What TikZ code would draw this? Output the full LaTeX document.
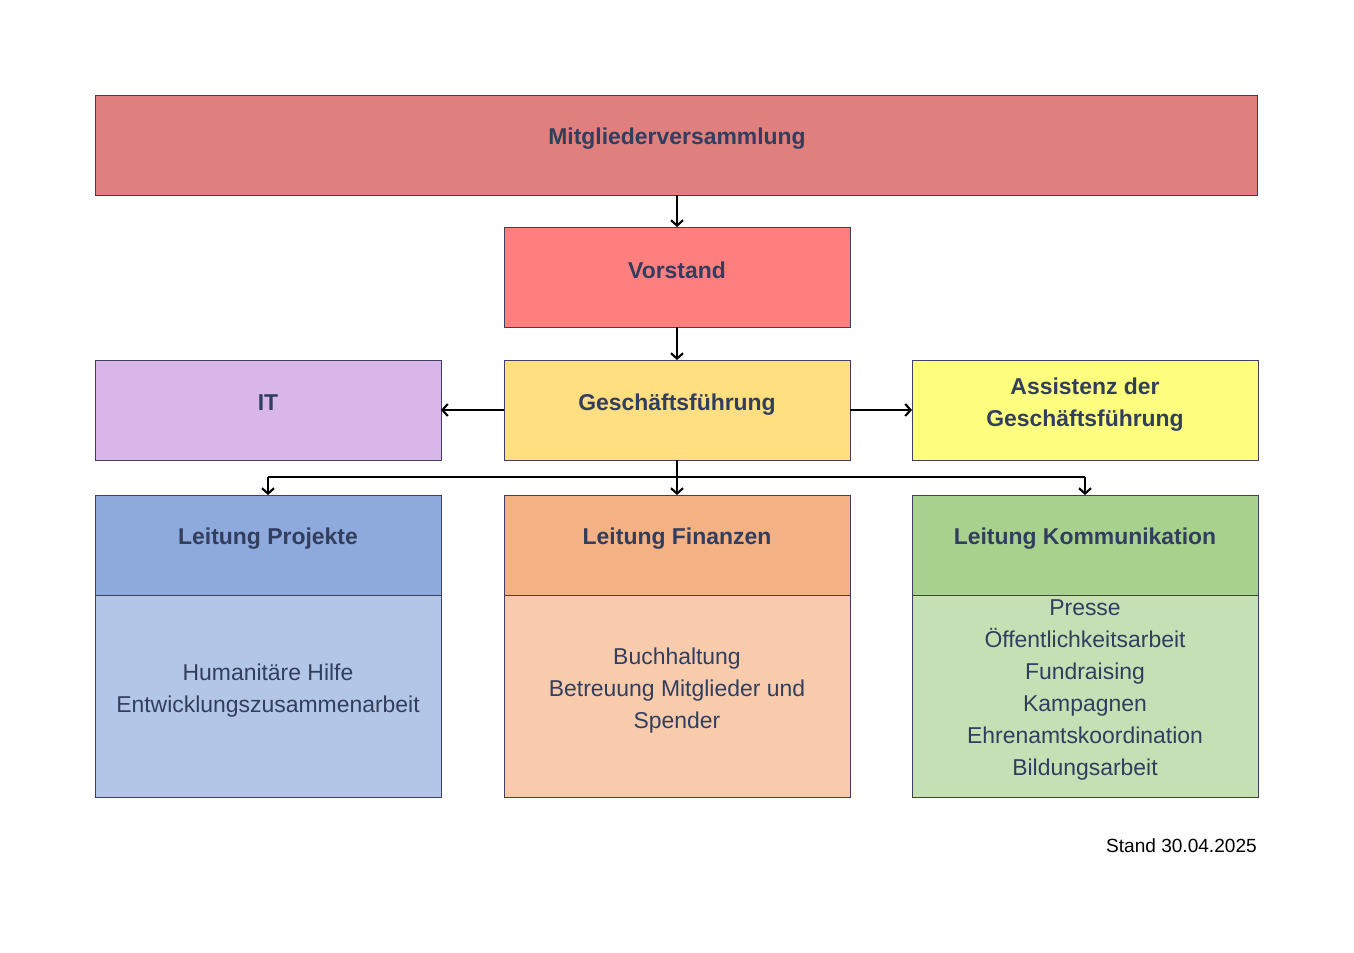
\documentclass[tikz,border=0pt]{standalone}
\usepackage{fontspec}
\setmainfont{Liberation Sans}
\usetikzlibrary{arrows.meta,calc}

\definecolor{rahmen}{HTML}{3F3F5F}
\definecolor{schrift}{HTML}{323E5E}
\definecolor{mvfarbe}{HTML}{DF7F7E}
\definecolor{vsfarbe}{HTML}{FF7F7F}
\definecolor{gffarbe}{HTML}{FFDF7F}
\definecolor{itfarbe}{HTML}{D9B6EA}
\definecolor{asfarbe}{HTML}{FFFF7F}
\definecolor{pjkopf}{HTML}{8EA9DB}
\definecolor{pjkoerper}{HTML}{B4C6E7}
\definecolor{fnkopf}{HTML}{F4B183}
\definecolor{fnkoerper}{HTML}{F8CBAD}
\definecolor{kmkopf}{HTML}{A9D18E}
\definecolor{kmkoerper}{HTML}{C5E0B4}

\tikzset{
  kasten/.style={draw=rahmen, line width=0.75pt, minimum width=259.5pt, minimum height=75pt, inner sep=0pt, outer sep=0pt},
  koerper/.style={kasten, minimum height=151.5pt},
  titel/.style={font=\bfseries\fontsize{17.2}{24}\selectfont, text=schrift, align=center},
  inhalt/.style={font=\fontsize{17.2}{24}\selectfont, text=schrift, align=center},
  pfeil/.style={line width=1.6pt, -{Straight Barb[length=4pt,width=9pt,line width=1.6pt]}},
  bus/.style={line width=2.2pt}
}

\begin{document}
\begin{tikzpicture}[x=0.75pt,y=0.75pt,yscale=-1,xscale=1]
\useasboundingbox (0,0) rectangle (1354,953);

%Boxes top
\node[kasten, fill=mvfarbe, minimum width=871.5pt] (mv) at (676,145) {};
\node[kasten, fill=vsfarbe] (vs) at (677,277) {};
\node[kasten, fill=gffarbe] (gf) at (677,410) {};
\node[kasten, fill=itfarbe] (it) at (268,410) {};
\node[kasten, fill=asfarbe] (as) at (1085,410) {};

%Boxes bottom
\node[kasten, fill=pjkopf] (pj) at (268,545) {};
\node[koerper, fill=pjkoerper, anchor=north] (pjb) at (pj.south) {};
\node[kasten, fill=fnkopf] (fn) at (677,545) {};
\node[koerper, fill=fnkoerper, anchor=north] (fnb) at (fn.south) {};
\node[kasten, fill=kmkopf] (km) at (1085,545) {};
\node[koerper, fill=kmkoerper, anchor=north] (kmb) at (km.south) {};

% Text Node
\node[titel] (mvT) at (677,139) {Mitgliederversammlung};
\node[titel] (vsT) at (677,270) {Vorstand};
\node[titel] (gfT) at (677,405) {Geschäftsführung};
\node[titel] (itT) at (268,403) {IT};
\node[titel] (asT) at (1085,405) {Assistenz der\\Geschäftsführung};
\node[titel] (pjT) at (268,539) {Leitung Projekte};
\node[titel] (fnT) at (677,539) {Leitung Finanzen};
\node[titel] (kmT) at (1085,539) {Leitung Kommunikation};
\node[inhalt] (pjI) at (268,691) {Humanitäre Hilfe\\Entwicklungszusammenarbeit};
\node[inhalt] (fnI) at (677,691) {Buchhaltung\\Betreuung Mitglieder und\\Spender};
\node[inhalt] (kmI) at (1085,690) {Presse\\Öffentlichkeitsarbeit\\Fundraising\\Kampagnen\\Ehrenamtskoordination\\Bildungsarbeit};
\node[font=\fontsize{14.3}{17}\selectfont, anchor=base east, inner sep=0pt] (stand) at (1257,852) {Stand 30.04.2025};

%Connectors
\coordinate (bus) at (677,477);
\draw[pfeil] (mv.south -| vs.north) -- (vs.north);
\draw[pfeil] (vs.south) -- (gf.north);
\draw[pfeil] (gf.west) -- (it.east);
\draw[pfeil] (gf.east) -- (as.east -| as.west);
\draw[bus] (pj.north |- bus) -- (km.north |- bus);
\draw[pfeil] (gf.south) -- (fn.north);
\draw[pfeil] (pj.north |- bus) -- (pj.north);
\draw[pfeil] (km.north |- bus) -- (km.north);

\end{tikzpicture}
\end{document}
